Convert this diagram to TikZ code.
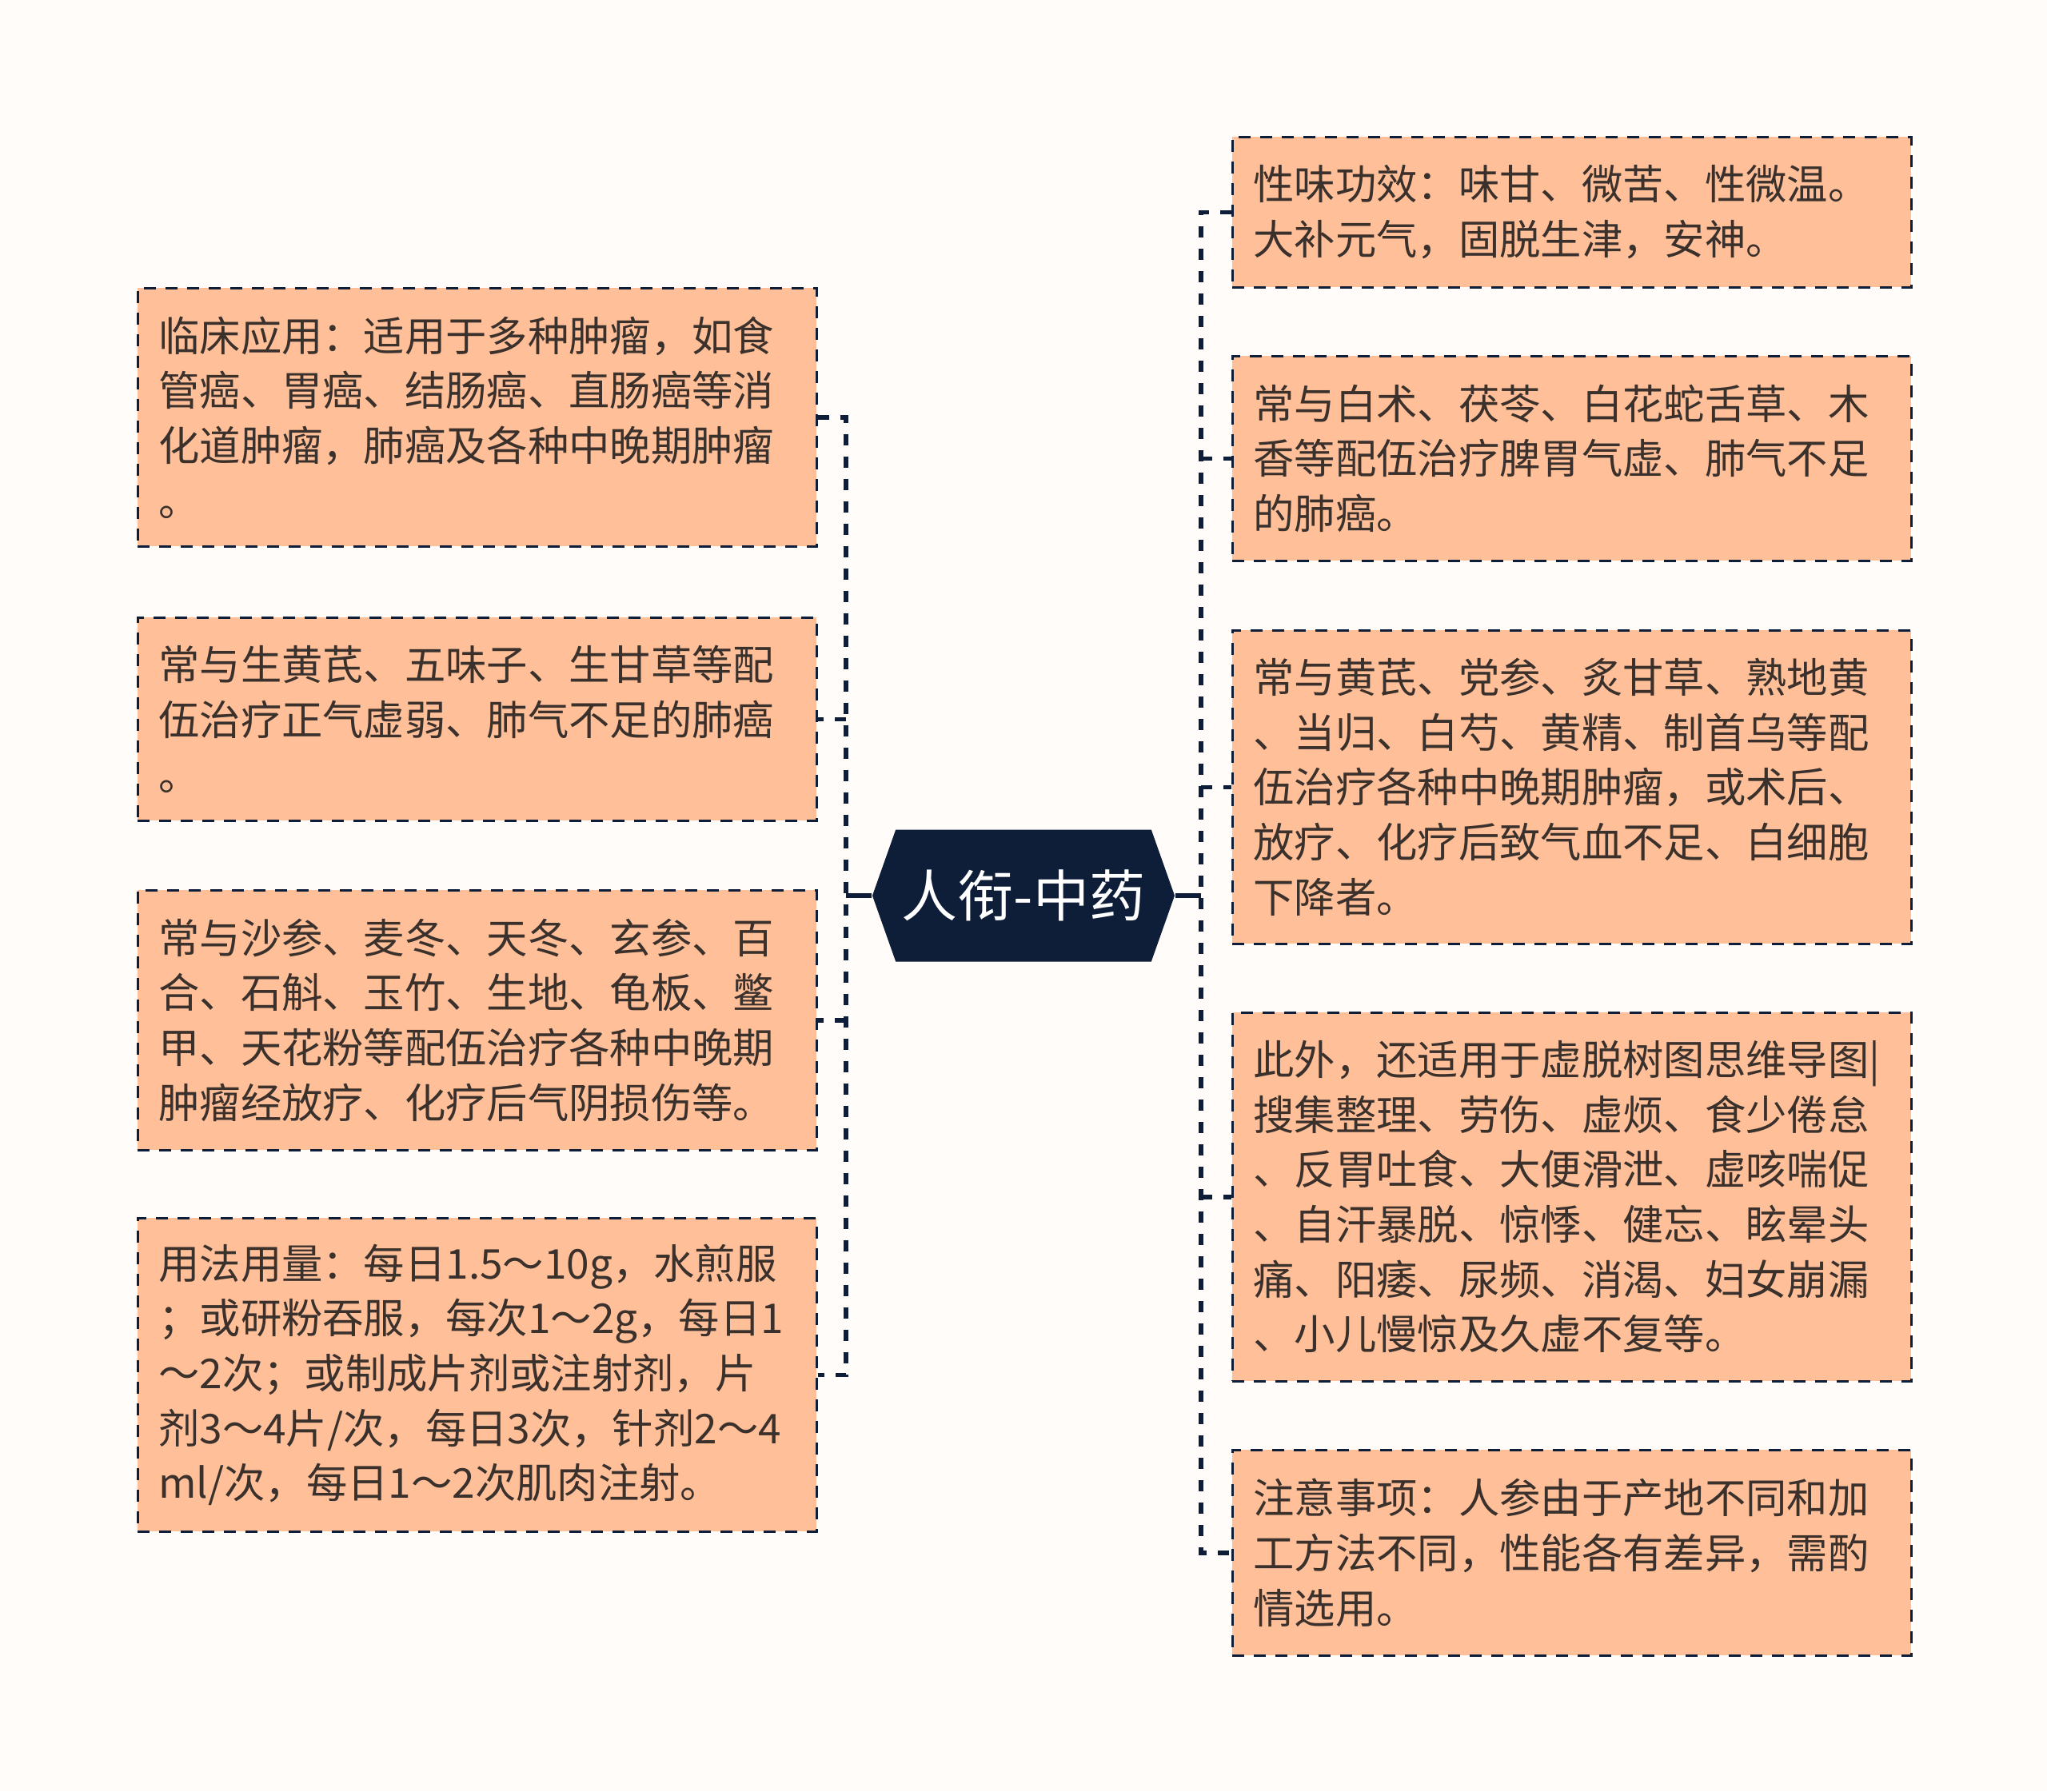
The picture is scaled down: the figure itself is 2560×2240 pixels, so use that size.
\documentclass[tikz,border=0pt]{standalone}
\usepackage{fontspec}
\setmainfont{Noto Sans CJK SC}
\usepackage{xcolor}
\usetikzlibrary{shapes.symbols}

\definecolor{pagebg}{HTML}{FFFCFA}
\definecolor{navy}{HTML}{0E1E38}
\definecolor{peach}{HTML}{FFBF98}
\definecolor{inkdark}{HTML}{3A302C}

\begin{document}
\begin{tikzpicture}[x=0.3pt,y=0.3pt,yscale=-1,xscale=1,
  leaf/.style={draw=navy,fill=peach,line width=0.8pt,dash pattern=on 4.5pt off 3.6pt,
    anchor=north west,inner xsep=7.8pt,inner ysep=0pt,text width=239.1pt,align=left,
    text=inkdark,font=\fontsize{15.4pt}{20.6pt}\selectfont},
  root/.style={signal,signal to=west and east,signal pointer angle=141,fill=navy,
    minimum width=113.4pt,minimum height=49.5pt,inner sep=0pt,text=white,
    font=\fontsize{21pt}{24pt}\selectfont},
  trunk/.style={draw=navy,line width=1.6pt},
  branch/.style={draw=navy,line width=1.6pt,dash pattern=on 4.2pt off 4.2pt}]
%set diagram to the size of the reference, 2560 x 2240
\fill[pagebg] (0,0) rectangle (2560,2240);

%Central topic
\node[root] (med) at (1280,1120) {人衔-中药};
\coordinate (lbus) at (1058,1120);
\coordinate (rbus) at (1502,1120);

%Left side
\node[leaf,minimum height=96.9pt] (use) at (171,359) {临床应用：适用于多种肿瘤，如食\\管癌、胃癌、结肠癌、直肠癌等消\\化道肿瘤，肺癌及各种中晚期肿瘤\\。};
\node[leaf,minimum height=76.2pt] (lungq) at (171,771) {常与生黄芪、五味子、生甘草等配\\伍治疗正气虚弱、肺气不足的肺癌\\。};
\node[leaf,minimum height=97.5pt] (yin) at (171,1112) {常与沙参、麦冬、天冬、玄参、百\\合、石斛、玉竹、生地、龟板、鳖\\甲、天花粉等配伍治疗各种中晚期\\肿瘤经放疗、化疗后气阴损伤等。};
\node[leaf,minimum height=117.6pt] (dose) at (171,1522) {用法用量：每日1.5～10g，水煎服\\；或研粉吞服，每次1～2g，每日1\\～2次；或制成片剂或注射剂，片\\剂3～4片/次，每日3次，针剂2～4\\ml/次，每日1～2次肌肉注射。};

%Right side
\node[leaf,minimum height=56.4pt] (taste) at (1540,170) {性味功效：味甘、微苦、性微温。\\大补元气，固脱生津，安神。};
\node[leaf,minimum height=76.8pt] (spleen) at (1540,444) {常与白术、茯苓、白花蛇舌草、木\\香等配伍治疗脾胃气虚、肺气不足\\的肺癌。};
\node[leaf,minimum height=117.6pt] (blood) at (1540,787) {常与黄芪、党参、炙甘草、熟地黄\\、当归、白芍、黄精、制首乌等配\\伍治疗各种中晚期肿瘤，或术后、\\放疗、化疗后致气血不足、白细胞\\下降者。};
\node[leaf,minimum height=138.3pt] (other) at (1540,1265) {此外，还适用于虚脱树图思维导图|\\搜集整理、劳伤、虚烦、食少倦怠\\、反胃吐食、大便滑泄、虚咳喘促\\、自汗暴脱、惊悸、健忘、眩晕头\\痛、阳痿、尿频、消渴、妇女崩漏\\、小儿慢惊及久虚不复等。};
\node[leaf,minimum height=77.1pt] (note) at (1540,1812) {注意事项：人参由于产地不同和加\\工方法不同，性能各有差异，需酌\\情选用。};

%Connectors
\draw[trunk] (med.west) -- (lbus);
\draw[trunk] (med.east) -- (rbus);
\draw[branch] (use.east) -- (lbus |- use.east) -- (lbus |- dose.east) -- (dose.east);
\draw[branch] (lbus |- lungq.east) -- (lungq.east);
\draw[branch] (lbus |- yin.east) -- (yin.east);
\draw[branch] (taste.west) -- (rbus |- taste.west) -- (rbus |- note.west) -- (note.west);
\draw[branch] (rbus |- spleen.west) -- (spleen.west);
\draw[branch] (rbus |- blood.west) -- (blood.west);
\draw[branch] (rbus |- other.west) -- (other.west);

\end{tikzpicture}
\end{document}
